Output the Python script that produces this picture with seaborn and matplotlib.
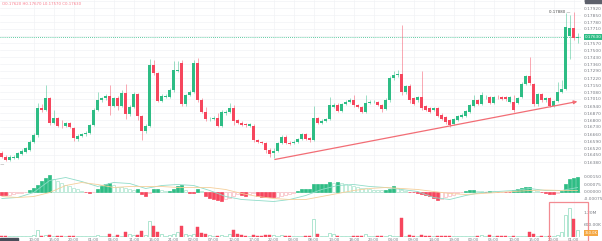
import numpy as np
import pandas as pd
import matplotlib
matplotlib.use("Agg")
import matplotlib.pyplot as plt
import seaborn as sns
from matplotlib.ticker import MultipleLocator, FuncFormatter, FixedLocator
from matplotlib.patches import Rectangle, FancyArrowPatch

# ---------------- data ----------------
opens = [
    0.16473,0.16433,0.16400,0.16423,0.16423,0.16460,0.16483,0.16500,0.16583,0.16650,
    0.16917,0.16900,0.17017,0.16773,0.16817,0.16743,0.16743,0.16767,0.16717,0.16610,
    0.16640,0.16657,0.16667,0.16750,0.16900,0.17000,0.17017,0.17040,0.16943,0.17017,
    0.16943,0.17073,0.16857,0.16933,0.17060,0.16840,0.16690,0.16740,0.17350,0.17267,
    0.16993,0.17033,0.17033,0.17100,0.17290,0.17367,0.16957,0.17050,0.17083,0.17373,
    0.17000,0.16883,0.16807,0.16813,0.16817,0.16743,0.16867,0.16883,0.16917,0.16800,
    0.16773,0.16757,0.16743,0.16743,0.16600,0.16577,0.16567,0.16500,0.16467,0.16493,
    0.16567,0.16633,0.16573,0.16567,0.16583,0.16610,0.16660,0.16617,0.16600,0.16817,
    0.16773,0.16790,0.16807,0.16933,0.16950,0.16890,0.16957,0.16983,0.17000,0.16950,
    0.16927,0.16877,0.16973,0.16980,0.16983,0.16950,0.16907,0.17000,0.17217,0.17250,
    0.17260,0.17080,0.17140,0.17017,0.17000,0.17030,0.16940,0.16920,0.16900,0.16920,
    0.16850,0.16830,0.16800,0.16760,0.16800,0.16830,0.16840,0.16880,0.16940,0.17000,
    0.16960,0.17027,0.17030,0.16970,0.17030,0.17027,0.17030,0.16983,0.16977,0.16967,
    0.17030,0.17160,0.17240,0.17160,0.16957,0.17057,0.17000,0.17017,0.16943,0.16993,
    0.17083,0.17107,0.17640,0.17720,0.17620]
highs = [
    0.16490,0.16450,0.16450,0.16450,0.16480,0.16510,0.16530,0.16600,0.16670,0.16970,
    0.16960,0.17150,0.17030,0.16900,0.16830,0.16800,0.16780,0.16780,0.16730,0.16660,
    0.16670,0.16690,0.16760,0.16920,0.17080,0.17030,0.17060,0.17150,0.17030,0.17040,
    0.17100,0.17160,0.16950,0.17080,0.17073,0.16850,0.16760,0.17410,0.17400,0.17280,
    0.17060,0.17060,0.17120,0.17390,0.17390,0.17400,0.17060,0.17100,0.17400,0.17420,
    0.17017,0.16930,0.16830,0.16840,0.16870,0.16900,0.16900,0.16970,0.16950,0.16810,
    0.16790,0.16767,0.16773,0.16760,0.16610,0.16590,0.16580,0.16517,0.16517,0.16580,
    0.16650,0.16650,0.16590,0.16600,0.16617,0.16667,0.16673,0.16630,0.16940,0.16830,
    0.16807,0.16817,0.17030,0.16970,0.16967,0.16970,0.17000,0.17017,0.17050,0.16960,
    0.16940,0.17050,0.17000,0.17000,0.16993,0.16960,0.17017,0.17240,0.17290,0.17300,
    0.17750,0.17150,0.17160,0.17030,0.17040,0.17290,0.16950,0.16930,0.16930,0.16930,
    0.16867,0.16840,0.16810,0.16817,0.16850,0.16867,0.16900,0.16960,0.17050,0.17010,
    0.17080,0.17050,0.17040,0.17040,0.17050,0.17040,0.17040,0.17040,0.17050,0.17030,
    0.17180,0.17250,0.17430,0.17167,0.17073,0.17073,0.17030,0.17030,0.17000,0.17180,
    0.17200,0.17870,0.17850,0.17880,0.17670]
lows = [
    0.16420,0.16390,0.16390,0.16410,0.16410,0.16450,0.16470,0.16490,0.16567,0.16630,
    0.16880,0.16890,0.16750,0.16760,0.16730,0.16717,0.16730,0.16717,0.16590,0.16590,
    0.16630,0.16640,0.16657,0.16740,0.16890,0.16983,0.17000,0.16850,0.16930,0.16900,
    0.16930,0.16810,0.16840,0.16920,0.16800,0.16600,0.16667,0.16730,0.17250,0.16980,
    0.16980,0.17017,0.17017,0.17083,0.17280,0.16940,0.16940,0.17040,0.17073,0.16983,
    0.16870,0.16790,0.16790,0.16800,0.16730,0.16730,0.16850,0.16870,0.16750,0.16760,
    0.16737,0.16730,0.16730,0.16580,0.16567,0.16560,0.16473,0.16433,0.16417,0.16483,
    0.16560,0.16560,0.16550,0.16560,0.16573,0.16600,0.16600,0.16583,0.16590,0.16760,
    0.16760,0.16780,0.16800,0.16917,0.16877,0.16880,0.16950,0.16973,0.16930,0.16917,
    0.16867,0.16867,0.16960,0.16967,0.16940,0.16880,0.16900,0.16983,0.17200,0.17230,
    0.17050,0.17060,0.16970,0.16950,0.16983,0.16900,0.16890,0.16870,0.16890,0.16830,
    0.16800,0.16760,0.16730,0.16750,0.16790,0.16817,0.16830,0.16870,0.16930,0.16950,
    0.16950,0.17010,0.16960,0.16957,0.17010,0.17000,0.16993,0.16973,0.16880,0.16957,
    0.17017,0.17150,0.17150,0.16940,0.16943,0.16983,0.16983,0.16930,0.16930,0.16983,
    0.17073,0.17100,0.17410,0.17600,0.17570]
closes = [
    0.16433,0.16400,0.16433,0.16430,0.16467,0.16493,0.16517,0.16583,0.16650,0.16917,
    0.16900,0.17017,0.16773,0.16817,0.16740,0.16737,0.16767,0.16733,0.16617,0.16640,
    0.16660,0.16673,0.16750,0.16900,0.17000,0.17017,0.17040,0.16943,0.17017,0.16943,
    0.17073,0.16857,0.16933,0.17060,0.16840,0.16690,0.16740,0.17350,0.17267,0.16993,
    0.17040,0.17040,0.17100,0.17300,0.17300,0.16957,0.17050,0.17083,0.17373,0.17000,
    0.16883,0.16807,0.16813,0.16817,0.16743,0.16883,0.16883,0.16917,0.16790,0.16773,
    0.16750,0.16750,0.16757,0.16600,0.16577,0.16567,0.16500,0.16457,0.16493,0.16567,
    0.16633,0.16573,0.16560,0.16583,0.16610,0.16660,0.16610,0.16600,0.16817,0.16773,
    0.16790,0.16807,0.16950,0.16950,0.16890,0.16957,0.16983,0.17000,0.16950,0.16927,
    0.16877,0.16973,0.16983,0.16983,0.16950,0.16907,0.17000,0.17217,0.17250,0.17260,
    0.17080,0.17140,0.17000,0.16960,0.17030,0.16920,0.16900,0.16880,0.16920,0.16840,
    0.16810,0.16780,0.16750,0.16810,0.16840,0.16850,0.16890,0.16950,0.17000,0.16960,
    0.17050,0.17030,0.16970,0.17030,0.17027,0.17010,0.17010,0.17030,0.16900,0.17017,
    0.17160,0.17240,0.17167,0.16957,0.17057,0.17000,0.17017,0.16943,0.16993,0.17083,
    0.17107,0.17730,0.17720,0.17620,0.17630]
volumes = [
    75000,75000,60000,50000,50000,50000,60000,75000,100000,335000,
    75000,100000,100000,75000,60000,50000,50000,50000,75000,50000,
    50000,50000,75000,75000,100000,75000,60000,150000,75000,125000,
    75000,235000,165000,115000,115000,300000,100000,785000,535000,235000,
    165000,75000,100000,150000,265000,535000,165000,125000,165000,500000,
    200000,135000,100000,60000,75000,100000,60000,135000,335000,165000,
    100000,60000,50000,100000,75000,75000,100000,85000,85000,75000,
    85000,75000,60000,60000,75000,60000,75000,75000,900000,165000,
    75000,50000,200000,165000,75000,75000,60000,60000,75000,75000,
    75000,165000,75000,60000,50000,60000,75000,100000,75000,75000,
    950000,75000,100000,75000,50000,115000,60000,75000,50000,75000,
    60000,75000,75000,50000,50000,50000,60000,75000,75000,60000,
    115000,75000,100000,60000,50000,50000,60000,50000,75000,50000,
    75000,75000,235000,135000,75000,60000,50000,60000,50000,100000,
    250000,1100000,1450000,900000,350000]
macd_hist = [
    -0.00035,-0.00035,-0.00030,-0.00023,-0.00017,-0.00010,-0.00005,0.00020,0.00040,0.00067,
    0.00107,0.00140,0.00163,0.00123,0.00107,0.00083,0.00067,0.00057,0.00040,0.00023,
    0.00007,-0.00007,-0.00010,-0.00005,0.00023,0.00057,0.00080,0.00090,0.00067,0.00050,
    0.00047,0.00040,0.00023,0.00013,0.00030,-0.00020,-0.00043,-0.00010,0.00023,0.00030,
    0.00017,0.00007,0.00007,0.00030,0.00057,0.00063,0.00017,-0.00010,-0.00010,0.00023,
    0.00010,-0.00043,-0.00060,-0.00070,-0.00083,-0.00093,-0.00077,-0.00063,-0.00043,-0.00027,
    -0.00037,-0.00043,-0.00020,-0.00010,-0.00040,-0.00050,-0.00053,-0.00057,-0.00057,-0.00053,
    -0.00040,-0.00030,-0.00020,-0.00010,0.00007,0.00030,0.00030,0.00030,0.00073,0.00073,
    0.00077,0.00077,0.00100,0.00090,0.00097,0.00087,0.00080,0.00070,0.00060,0.00050,
    0.00040,0.00033,0.00023,0.00017,0.00015,0.00013,0.00015,0.00030,0.00053,0.00033,
    0.00017,0.00007,-0.00007,-0.00007,-0.00013,-0.00020,-0.00033,-0.00047,-0.00060,-0.00083,
    -0.00073,-0.00057,-0.00043,-0.00030,-0.00017,-0.00007,0.00007,0.00013,0.00013,0.00007,
    0.00003,-0.00003,0.00007,0.00005,-0.00005,-0.00003,-0.00007,-0.00007,0.00017,0.00023,
    0.00040,0.00050,0.00050,0.00020,0.00007,-0.00007,-0.00013,-0.00023,-0.00027,-0.00010,
    0.00007,0.00073,0.00123,0.00140,0.00150]
macd_idx = list(range(0, 145, 4))
macd_line = [-0.0007,-0.0006,-0.0001,0.0011,0.0014,0.0010,0.0005,0.0009,0.0008,0.0003,
             0.0006,0.0007,0.0006,0.0001,-0.0005,-0.0008,-0.0009,-0.0010,-0.0008,-0.0004,
             0.0002,0.0006,0.0007,0.0005,0.0004,0.0002,0.0000,-0.0006,-0.0008,-0.0004,
             -0.0001,0.0000,0.0001,0.0003,0.0001,0.0001,0.0004]
signal_line = [-0.0005,-0.0006,-0.0005,-0.0001,0.0006,0.0009,0.0007,0.0004,0.0005,0.0005,
               0.0005,0.0004,0.0004,0.0004,0.0002,-0.0002,-0.0005,-0.0007,-0.0008,-0.0008,
               -0.0005,-0.0002,0.0001,0.0003,0.0004,0.0003,0.0002,0.0000,-0.0002,-0.0003,
               -0.0002,-0.0001,0.0000,0.0001,0.00015,0.0001,0.0001]
tick_idx = list(range(8, 145, 5))
tick_labels = ["10:00","15:00","20:00","01:00","06:00","11:00","16:00","21:00","02:00","07:00",
               "12:00","17:00","22:00","03:00","08:00","13:00","18:00","23:00","04:00","09:00",
               "14:00","19:00","00:00","05:00","10:00","15:00","20:00","01:00"]
trend_start = [67.6, 0.1640]
trend_end = [144.6, 0.1699]
highlight_x = [136.9, 146.6]
highlight_vol = [-200000, 1765000]

# ---------------- style ----------------
sns.set_theme(style="white")
plt.rcParams['font.family'] = ['DejaVu Sans']
GREEN = '#2ebd85'
RED = '#f6465d'
LGREEN = '#a9e4cd'
LRED = '#f9b9c0'
GRID = '#f2f3f5'
LAB = '#7a7d85'

W, H = 602, 241
fig = plt.figure(figsize=(W / 100, H / 100), dpi=100)
fig.patch.set_facecolor('white')

def rect(x0, y0, x1, y1):
    return [x0 / W, 1 - y1 / H, (x1 - x0) / W, (y1 - y0) / H]

ax_p = fig.add_axes(rect(0, 0, 581, 166))
ax_m = fig.add_axes(rect(0, 166, 581, 206), sharex=ax_p)
ax_v = fig.add_axes(rect(0, 206, 581, 237), sharex=ax_p)

n = len(closes)
x = np.arange(n)
o = np.array(opens); c = np.array(closes); hi = np.array(highs); lo = np.array(lows)
up = c >= o
cols = np.where(up, GREEN, RED)

# candles
ax_p.vlines(x, lo, hi, colors=cols, linewidth=0.6, alpha=0.55, zorder=2)
body_bottom = np.minimum(o, c)
body_h = np.maximum(np.abs(c - o), 0.00005)
ax_p.bar(x, body_h, bottom=body_bottom, width=0.72, color=cols, linewidth=0, zorder=3)

ax_p.set_xlim(-0.425, 144.825)
ax_p.set_ylim(0.1634, 0.1800)

# current price line + label
last = closes[-1]
ax_p.axhline(last, color=GREEN, lw=0.6, ls=(0, (1, 1.5)), zorder=1)
ax_p.text(1.006, last, f"{last:.5f}", transform=ax_p.get_yaxis_transform(),
          fontsize=3.0, color='white', va='center', ha='left', clip_on=False,
          bbox=dict(boxstyle='square,pad=0.2', fc=GREEN, ec='none'), zorder=10)

# high / low annotations
ih = int(np.argmax(hi)); il = int(np.argmin(lo))
ax_p.text(ih - 0.9, hi[ih], f"{hi[ih]:.5f} \u2014", fontsize=2.8, color='#444',
          ha='right', va='center')
ax_p.text(il - 0.3, lo[il] - 0.00012, f"{lo[il]:.5f} \u2014", fontsize=2.8, color='#444',
          ha='right', va='top')

# trend arrow
arr = FancyArrowPatch(tuple(trend_start), tuple(trend_end), arrowstyle='-|>',
                      mutation_scale=5, color='#f26d75', lw=0.9, zorder=6)
ax_p.add_patch(arr)

# legend text top-left
ax_p.text(0.004, 0.985, f"O{opens[-1]:.5f} H{highs[-1]:.5f} L{lows[-1]:.5f} C{closes[-1]:.5f}",
          transform=ax_p.transAxes, fontsize=2.8, color=RED, alpha=0.7, ha='left', va='top')

# price axis
ax_p.yaxis.tick_right()
ax_p.yaxis.set_major_locator(MultipleLocator(0.0007))
ax_p.yaxis.set_major_formatter(FuncFormatter(
    lambda v, p: '' if abs(v - last) < 0.00045 else f"{v:.5f}"))

# MACD
hist = np.array(macd_hist)
prev = np.concatenate([[hist[0]], hist[:-1]])
for i in range(n):
    h = hist[i]
    if h >= 0:
        filled = h >= prev[i]
        fc, ec = (GREEN, GREEN) if filled else ('white', LGREEN)
    else:
        filled = h <= prev[i]
        fc, ec = (RED, RED) if filled else ('white', LRED)
    ax_m.bar(i, h, width=0.72, facecolor=fc, edgecolor=ec, linewidth=0.5, zorder=3)
ax_m.axhline(0, color='#e6e6e6', lw=0.4, zorder=1)
dfm = pd.DataFrame({'idx': macd_idx, 'macd': macd_line, 'signal': signal_line})
sns.lineplot(data=dfm, x='idx', y='macd', ax=ax_m, color='#8fdcc8', lw=0.6, zorder=4)
sns.lineplot(data=dfm, x='idx', y='signal', ax=ax_m, color='#f5cf9a', lw=0.6, zorder=4)
ax_m.set_ylim(-0.00145, 0.00255)
ax_m.yaxis.tick_right()
ax_m.yaxis.set_major_locator(FixedLocator([-0.00075, 0, 0.00075, 0.0015]))
ax_m.yaxis.set_major_formatter(FuncFormatter(lambda v, p: f"{v:.5f}"))

# Volume
vol = np.array(volumes)
for i in range(n):
    if up[i]:
        ax_v.bar(i, vol[i], width=0.72, facecolor='white', edgecolor='#8fdcbf', linewidth=0.5, zorder=3)
    else:
        ax_v.bar(i, vol[i], width=0.72, facecolor=RED, edgecolor=RED, linewidth=0.3, zorder=3)
ax_v.set_ylim(0, 1.55e6)
ax_v.yaxis.tick_right()
ax_v.yaxis.set_major_locator(FixedLocator([600000, 1200000]))
ax_v.yaxis.set_major_formatter(FuncFormatter(lambda v, p: f"{v/1e6:.2f}M" if v >= 1e6 else f"{v/1e3:.2f}K"))
ax_v.text(1.006, vol[-1] * 0.55, f"{vol[-1]/1e3:.1f}K", transform=ax_v.get_yaxis_transform(),
          fontsize=2.6, color='white', va='center', ha='left', clip_on=False,
          bbox=dict(boxstyle='square,pad=0.2', fc='#f5a742', ec='none'), zorder=10)
hl = Rectangle((highlight_x[0], highlight_vol[0]), highlight_x[1] - highlight_x[0],
               highlight_vol[1] - highlight_vol[0], fill=False, edgecolor='#f28b92',
               lw=0.9, clip_on=False, zorder=8)
ax_v.add_patch(hl)
ax_v.set_xticks(tick_idx)
ax_v.set_xticklabels(tick_labels)

for ax in (ax_p, ax_m, ax_v):
    for s in ax.spines.values():
        s.set_visible(False)
    ax.set_facecolor('white')
    ax.set_axisbelow(True)
    ax.grid(True, axis='x', color=GRID, lw=0.5)
    ax.tick_params(axis='y', length=0, labelsize=3.2, labelcolor=LAB, pad=2)
    ax.tick_params(axis='x', length=0, labelsize=2.8, labelcolor=LAB, pad=0.6)
    ax.xaxis.set_major_locator(FixedLocator(tick_idx))
    ax.set_xlabel(None)
    ax.set_ylabel(None)
    ax.yaxis.set_offset_position('right')
    ax.xaxis.get_offset_text().set_visible(False)
    ax.yaxis.get_offset_text().set_visible(False)
ax_p.grid(True, axis='y', color=GRID, lw=0.5)
ax_p.tick_params(axis='x', labelbottom=False)
ax_m.tick_params(axis='x', labelbottom=False)

# little dark boxes (scale corner / logo)
fig.add_artist(Rectangle((585 / W, 1 - 3 / H), 17 / W, 3 / H, transform=fig.transFigure,
                         color='#5d606b', zorder=20))
fig.add_artist(Rectangle((0, 0), 18 / W, 3.5 / H, transform=fig.transFigure,
                         color='#4a4e5a', zorder=20))

fig.savefig('out.png', dpi=100, facecolor='white')
